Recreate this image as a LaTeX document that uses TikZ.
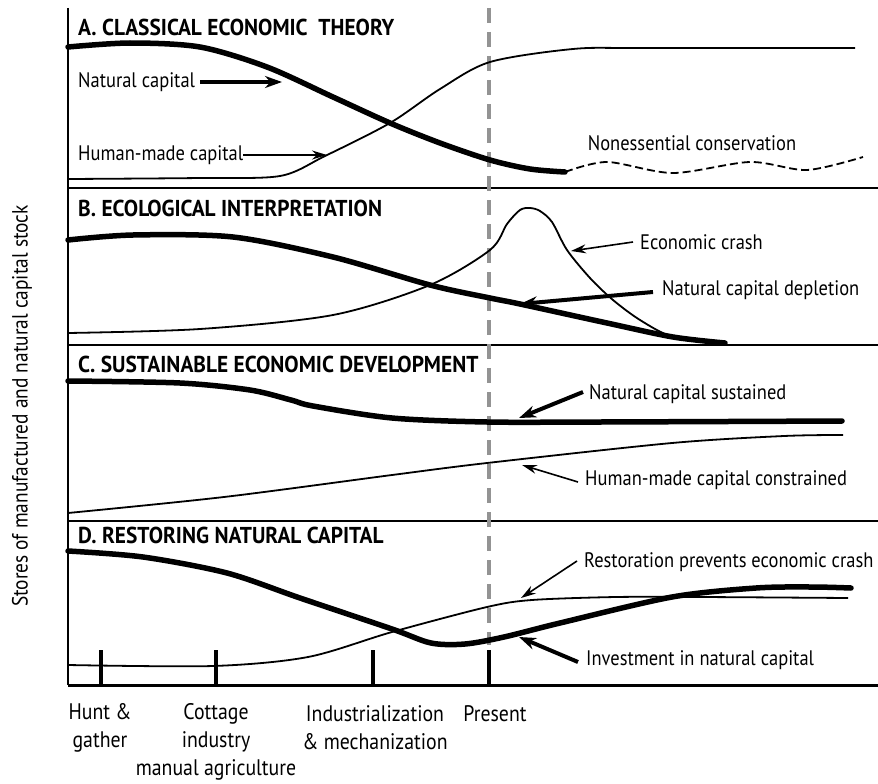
\documentclass[tikz,border=0pt]{standalone}
\usepackage{fontspec}
\setmainfont{PT Sans}[FakeStretch=0.88]
\newfontfamily\titlefont{PT Sans}[FakeStretch=0.93]
\usetikzlibrary{arrows.meta}

\tikzset{
    grueso/.style={line width=5.5pt, line cap=round},
    fino/.style={line width=1.8pt},
    flechafina/.style={line width=1.6pt, -{Stealth[length=15pt,width=9pt]}},
    flechagruesa/.style={line width=4pt, -{Stealth[length=17pt,width=12pt]}},
    titulo/.style={anchor=west, inner sep=0pt, font=\titlefont\fontsize{23}{25}\selectfont\bfseries},
    etiqueta/.style={anchor=west, inner sep=0pt, font=\fontsize{21}{25}\selectfont},
    eje/.style={inner sep=0pt, align=center, font=\fontsize{22.5}{28}\selectfont}
}

\begin{document}
\begin{tikzpicture}[x=1pt,y=-1pt]
    \useasboundingbox (0,0) rectangle (878,784);
    % Ejes y separadores
    \draw[line width=2.5pt] (68,8) -- (68,685);
    \draw[line width=3pt] (68,685) -- (878,685);
    \foreach \y in {188,345,521}
        \draw[line width=2pt] (68,\y) -- (878,\y);
    \draw[gray!85, line width=4pt, dash pattern=on 15pt off 9pt] (489,8) -- (489,645);
    \foreach \x in {101,216,373,489}
        \draw[line width=3.5pt] (\x,650) -- (\x,685);
    \node[eje, rotate=90, font=\fontsize{22}{28}\selectfont] (ylab) at (22,406) {Stores of manufactured and natural capital stock};
    % Panel A
    \node[titulo] (tA) at (78,27) {A. CLASSICAL ECONOMIC\ \ THEORY};
    \draw[grueso] plot[smooth] coordinates {(68,47) (130,43) (200,47) (267,67) (333,97) (390,123) (440,143) (490,160) (530,169) (565,172)};
    \draw[fino, dashed, dash pattern=on 8pt off 4pt] plot[smooth] coordinates {(565,172) (607,162) (673,173) (750,162) (807,170) (863,157)};
    \draw[fino] plot[smooth] coordinates {(68,179) (200,178) (280,176) (325,156) (390,123) (440,89) (490,62) (573,49) (640,48) (855,48)};
    \node[etiqueta] (natA) at (78,82) {Natural capital};
    \node[etiqueta] (humA) at (78,155) {Human-made capital};
    \node[etiqueta, anchor=center] (noess) at (692,143) {Nonessential conservation};
    \coordinate (pA1) at (282,82);
    \coordinate (pA2) at (327,155);
    \draw[flechagruesa] ([xshift=5pt]natA.east) -- (pA1);
    \draw[flechafina] (humA.east) -- (pA2);
    % Panel B
    \node[titulo] (tB) at (78,208) {B. ECOLOGICAL INTERPRETATION};
    \draw[grueso] plot[smooth] coordinates {(68,240) (133,235) (233,237) (333,257) (430,285) (490,298) (520,304) (607,323) (673,337) (725,343)};
    \draw[fino] plot[smooth] coordinates {(68,333) (200,329) (333,315) (430,285) (490,250) (507,224) (520,210) (530,208) (540,211) (552,222) (567,250) (590,278) (613,300) (640,320) (673,337) (720,343)};
    \node[etiqueta] (crash) at (640,242) {Economic crash};
    \node[etiqueta] (deplet) at (662,290) {Natural capital depletion};
    \coordinate (pB1) at (571,251);
    \coordinate (pB2) at (520,304);
    \draw[flechafina] ([xshift=-7pt]crash.west) -- (pB1);
    \draw[flechagruesa] ([xshift=-9pt,yshift=-2pt]deplet.west) -- (pB2);
    % Panel C
    \node[titulo] (tC) at (78,364) {C. SUSTAINABLE ECONOMIC DEVELOPMENT};
    \draw[grueso] plot[smooth] coordinates {(68,381) (180,383) (250,390) (291,400) (313,406) (392,418) (487,422) (600,422) (842,421)};
    \draw[fino] plot[smooth] coordinates {(68,513) (224,497) (392,475) (487,463) (672,443) (784,436) (843,435)};
    \node[etiqueta] (sust) at (589,394) {Natural capital sustained};
    \node[etiqueta] (constr) at (585,480) {Human-made capital constrained};
    \coordinate (pC1) at (519,418);
    \coordinate (pC2) at (522,465);
    \draw[flechagruesa] ([xshift=-6pt,yshift=2pt]sust.west) -- (pC1);
    \draw[flechafina] ([xshift=-7pt,yshift=-2pt]constr.west) -- (pC2);
    % Panel D
    \node[titulo] (tD) at (78,535) {D. RESTORING NATURAL CAPITAL};
    \draw[grueso] plot[smooth] coordinates {(68,551) (143,557) (227,573) (300,598) (392,629) (431,643) (465,644) (504,637) (560,623) (672,597) (756,588) (812,587) (851,588)};
    \draw[fino] plot[smooth] coordinates {(68,665) (213,666) (308,657) (392,632) (487,607) (532,600) (616,597) (700,597) (848,598)};
    \node[etiqueta] (restor) at (584,562) {Restoration prevents economic crash};
    \node[etiqueta] (invest) at (586,660) {Investment in natural capital};
    \coordinate (pD1) at (521,598);
    \coordinate (pD2) at (519,637);
    \draw[flechafina] ([xshift=-7pt,yshift=1pt]restor.west) -- (pD1);
    \draw[flechagruesa] ([xshift=-8pt,yshift=-2pt]invest.west) -- (pD2);
    % Etapas
    \node[eje] (hunt) at (100,728) {Hunt \&\\gather};
    \node[eje] (cott) at (216,742) {Cottage\\industry\\manual agriculture};
    \node[eje] (indus) at (375,728) {Industrialization\\\& mechanization};
    \node[eje] (pres) at (495,714) {Present};
\end{tikzpicture}
\end{document}
